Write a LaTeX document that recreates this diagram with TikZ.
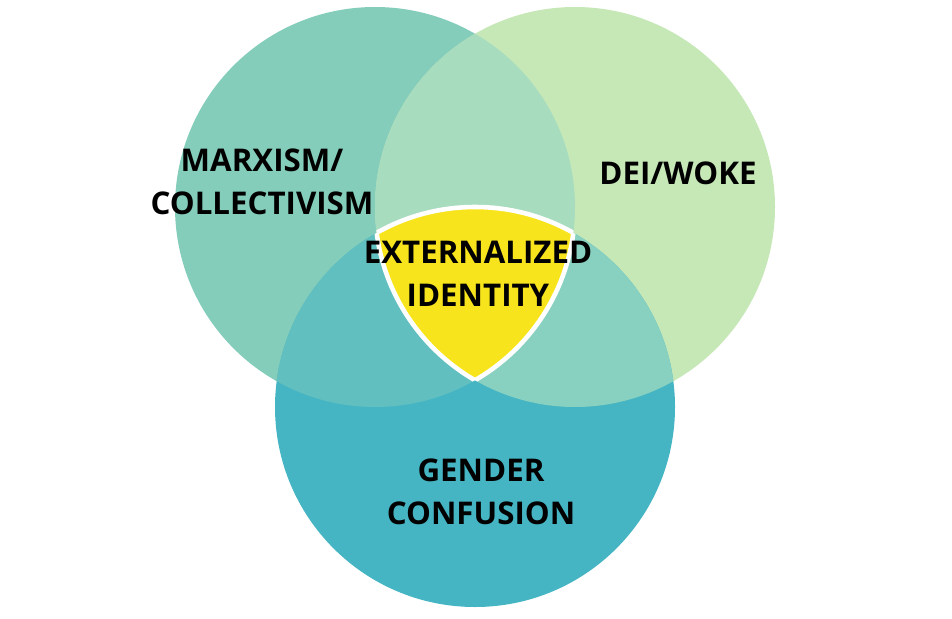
\documentclass[tikz,border=0pt]{standalone}
\usepackage{fontspec}
\setmainfont{Open Sans}
\definecolor{marxc}{HTML}{84CDBB}
\definecolor{deic}{HTML}{C6E8B7}
\definecolor{genc}{HTML}{45B5C4}
\definecolor{mdc}{HTML}{A7DCBE}
\definecolor{mgc}{HTML}{62BFBF}
\definecolor{dgc}{HTML}{88D1C0}
\definecolor{idc}{HTML}{F7E41C}
\begin{document}
\begin{tikzpicture}[x=0.02cm,y=-0.02cm,line join=round,
  lbl/.style={font=\bfseries\fontsize{17.8}{24.3}\selectfont,align=center,inner sep=0pt}]
  \useasboundingbox (0,0) rectangle (952,618);
  \coordinate (cm) at (375,207);
  \coordinate (cd) at (575,207);
  \coordinate (cg) at (475,407);
  % circles
  \fill[marxc] (cm) circle (200);
  \fill[deic] (cd) circle (200);
  \fill[genc] (cg) circle (200);
  % overlaps
  \begin{scope}
    \clip (cm) circle (200);
    \fill[mdc] (cd) circle (200);
    \fill[mgc] (cg) circle (200);
  \end{scope}
  \begin{scope}
    \clip (cd) circle (200);
    \fill[dgc] (cg) circle (200);
  \end{scope}
  % middle
  \begin{scope}
    \clip (cm) circle (200);
    \clip (cd) circle (200);
    \fill[idc] (cg) circle (200);
    \draw[white,line width=2.6pt] (cg) circle (200);
  \end{scope}
  \begin{scope}
    \clip (cm) circle (200);
    \clip (cg) circle (200);
    \draw[white,line width=2.6pt] (cd) circle (200);
  \end{scope}
  \begin{scope}
    \clip (cd) circle (200);
    \clip (cg) circle (200);
    \draw[white,line width=2.6pt] (cm) circle (200);
  \end{scope}
  % labels
  \node[lbl] (marx) at (262,182) {MARXISM/\\COLLECTIVISM};
  \node[lbl] (dei) at (678,173) {DEI/WOKE};
  \node[lbl] (ident) at (478,274) {EXTERNALIZED\\IDENTITY};
  \node[lbl] (gender) at (481,492) {GENDER\\CONFUSION};
\end{tikzpicture}
\end{document}
